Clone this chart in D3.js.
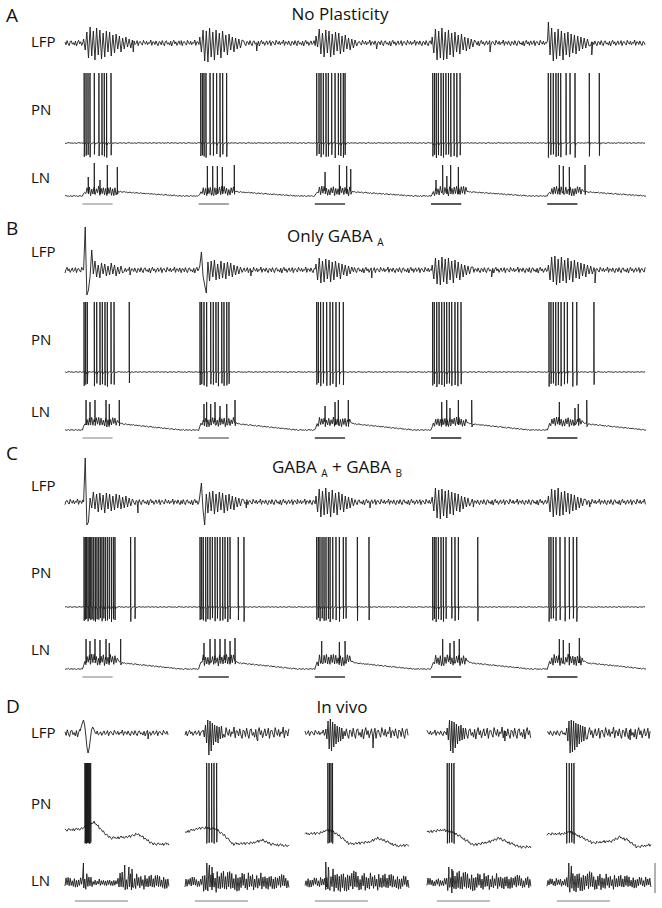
<!DOCTYPE html>
<html>
<head>
<meta charset="utf-8">
<script src="https://cdn.jsdelivr.net/npm/d3@7"></script>
<style>
body { margin: 0; background: #fff; }
text { font-family: "Open Sans", "Noto Sans", sans-serif; fill: #111; }
.trace { fill: none; stroke: #1c1c1c; stroke-width: 0.9; stroke-linejoin: round; }
</style>
</head>
<body>
<div id="fig"></div>
<script>
let w = 662;
let h = 908;

// ---- timing (ms) ----
let trialMs = 1000;
let onsetMs = 160;          // LFP burst onset within a simulated trial
let halfMs = 14;            // half period of LFP oscillation (model)
let odorMs = [150, 410];    // odor bar in simulated trials

// fixed noise table, reused for baseline texture
let jitter = [0.3, -0.6, 0.8, -0.2, -0.9, 0.5, 0.7, -0.4, 0.1, -0.7, 0.6, -1.0, 0.2, 0.9, -0.3,
    0.4, -0.8, 0.0, 0.7, -0.5, -0.1, 0.8, -0.9, 0.3, 0.5, -0.2, -0.7, 0.9, 0.1, -0.4, 0.6, -0.6,
    0.2, -0.1, 1.0, -0.8, 0.4, 0.3, -0.5, 0.7, -0.3, -0.9, 0.5];

// ---- A: no plasticity ----
let lfpA = [
    [4, -7, 11, -15, 16, -13, 12, -17, 15, -12, 13, -16, 10, -14, 12, -9, 11, -13, 8, -10, 9, -6, 7, -9, 5, -6, 6, -4, 4, -5, 3],
    [6, -9, 13, -18, 12, -19, 15, -14, 11, -17, 13, -12, 10, -15, 12, -9, 8, -12, 9, -7, 6, -9, 5, -6, 4, -5, 3],
    [7, -4, 14, -11, 10, -14, 13, -10, 12, -14, 9, -12, 11, -8, 10, -11, 7, -9, 8, -6, 5, -7, 4, -5, 3, -3],
    [6, -10, 14, -17, 12, -15, 15, -17, 11, -16, 13, -12, 10, -14, 11, -9, 8, -11, 9, -7, 6, -8, 5, -6, 4, -4, 3],
    [21, -12, 15, -18, 11, -16, 14, -13, 12, -17, 10, -12, 11, -14, 9, -10, 8, -11, 7, -8, 6, -6, 5, -5, 4, -3]
];
let lfpDipA = [[588, -9], [650, -8], [682, -6], [658, -9], [533, -12]];
let pnA = [
    [165, 181, 198, 215, 252, 292, 318, 338, 358, 396],
    [168, 182, 196, 213, 248, 276, 305, 334, 357, 391],
    [166, 186, 203, 223, 246, 266, 295, 324, 352, 373, 395, 410],
    [165, 180, 195, 213, 236, 256, 278, 300, 320, 348, 372, 400],
    [159, 180, 202, 225, 245, 266, 312, 346, 389, 512, 598]
];
let lnA = [
    [[200, 19], [252, 33], [301, 16], [364, 31], [450, 29]],
    [[225, 30], [271, 30], [311, 30], [354, 29], [457, 31]],
    [[238, 24], [361, 31], [424, 30], [459, 27]],
    [[193, 16], [250, 31], [286, 20], [319, 31], [385, 29]],
    [[254, 31], [288, 30], [340, 29], [475, 31]]
];
let lnLevelA = [0, 0, 5, 5, 4, 2, 0];
let barA = ["#ababab", "#8a8a8a", "#3a3a3a", "#222", "#222"];

// ---- B: only GABA A ----
let lfpB = [
    [0, 43, -25, -20, -6, 20, -4, 9, -7, 5, -8, 7, -4, 6, -6, 4, -5, 7, -4, 5, -6, 3, -4, 4, -3],
    [4, 18, -6, -15, -23, 8, -11, 9, -7, 10, -10, 6, -9, 9, -8, 7, -9, 8, -6, 7, -7, 5, -5, 4, -4, 3],
    [6, -10, 12, -13, 9, -12, 11, -9, 10, -12, 8, -10, 9, -7, 7, -9, 6, -5, 5, -6, 4, -4, 3],
    [5, -9, 12, -14, 10, -15, 13, -12, 11, -14, 12, -10, 9, -13, 10, -8, 8, -10, 6, -7, 5, -5, 4, -4, 3],
    [5, -10, 13, -12, 14, -15, 11, -13, 13, -11, 10, -13, 12, -10, 9, -12, 10, -8, 8, -9, 7, -6, 6, -7, 5, -4, 4, -4]
];
let lfpDipB = [[560, -5], [600, -6], [640, -8], [672, -7], [561, -13]];
let pnB = [
    [164, 178, 192, 252, 273, 301, 321, 344, 364, 396, 422, 553],
    [162, 176, 196, 219, 254, 276, 299, 319, 349, 368, 392, 411],
    [166, 180, 200, 223, 252, 281, 304, 332, 361, 395],
    [164, 178, 199, 219, 242, 264, 285, 307, 328, 356, 380, 408],
    [165, 182, 202, 223, 245, 269, 297, 323, 369, 404, 552]
];
let lnB = [
    [[181, 30], [215, 28], [258, 30], [353, 30], [381, 26], [467, 30]],
    [[196, 26], [219, 28], [254, 26], [291, 28], [334, 24], [392, 26], [463, 30]],
    [[238, 24], [324, 28], [352, 30], [438, 30]],
    [[242, 28], [285, 30], [313, 22], [385, 30], [500, 30]],
    [[254, 28], [389, 22], [417, 26], [490, 30]]
];
let lnLevelB = [0, 0, 8, 8, 6, 3, 0];
let barB = ["#ababab", "#777", "#333", "#222", "#222"];

// ---- C: GABA A + GABA B ----
let lfpC = [
    [0, 44, -23, -20, 4, -6, 10, -7, 8, -10, 9, -8, 7, -11, 9, -7, 8, -9, 6, -8, 8, -6, 7, -7, 5, -6, 6, -5, 4, -4, 3],
    [6, 19, -8, -23, 8, -11, 10, -9, 11, -12, 8, -10, 10, -8, 9, -11, 7, -9, 8, -7, 6, -8, 5, -5, 4, -4, 3],
    [6, -10, 13, -15, 11, -13, 14, -12, 10, -15, 12, -11, 9, -13, 10, -8, 8, -10, 6, -7, 5, -6, 4, -4],
    [5, -9, 14, -16, 12, -17, 13, -14, 11, -16, 12, -12, 10, -13, 9, -9, 8, -10, 6, -7, 5, -5, 4, -4],
    [6, -10, 13, -15, 12, -13, 14, -14, 10, -13, 11, -10, 9, -12, 8, -9, 7, -8, 5, -6, 4, -4, 3]
];
let lfpDipC = [[628, -11], [560, -6], [625, -6], [514, -5], [517, -5]];
let pnC = [
    [164, 175, 186, 198, 209, 221, 232, 247, 261, 275, 290, 304, 318, 333, 347, 364, 381, 399, 416, 430, 565, 602],
    [162, 176, 190, 211, 228, 248, 268, 291, 311, 334, 357, 377, 400, 420, 491, 540],
    [166, 180, 194, 212, 229, 246, 266, 281, 304, 332, 361, 395, 418, 516, 616],
    [164, 178, 193, 213, 236, 256, 279, 328, 356, 385, 552],
    [165, 182, 202, 225, 260, 303, 340, 374, 404]
];
let lnC = [
    [[181, 30], [215, 28], [258, 30], [301, 29], [353, 30], [381, 26], [479, 30]],
    [[196, 26], [248, 30], [291, 30], [334, 30], [377, 30], [420, 28], [463, 31]],
    [[209, 28], [361, 27], [410, 28]],
    [[250, 30], [313, 26], [348, 28], [393, 30]],
    [[254, 30], [288, 29], [340, 26], [426, 31]]
];
let lnLevelC = [0, 0, 9, 9, 6, 3, 0];
let barC = ["#ababab", "#333", "#333", "#222", "#222"];

let lnLevelMs = [0, 150, 175, 440, 500, 750, 1000];

// ---- D: in vivo (separate sweeps) ----
let dStart = [0, 2310, 4620, 6968, 9278];
let dSegMs = 2000;
let dOdor = [190, 1210];
let dOnset = [290, 350, 400, 390, 380];
let dHalfMs = 22;
let dLfp = [
    [2, 6, 10, 13, 8, -2, -14, -20, -15, -6, 3, 6, 4, 1, -1, 2, -2],
    [3, -4, 8, -10, 13, -22, 12, -18, 10, -12, 8, -9, 7, -10, 6, -6, 7, -5],
    [4, -6, 12, -16, 14, -18, 11, -14, 9, -11, 7, -9, 6, -8, 5, -6],
    [5, -7, 13, -18, 12, -20, 11, -15, 9, -11, 7, -8, 8, -7, 5, -6],
    [5, -8, 12, -20, 13, -19, 12, -17, 10, -14, 9, -11, 8, -9, 7, -8, 6, -6]
];
let dLfpNoise = [[4, 3], [3, 6], [3, 6], [3, 6], [3, 6]];
let dLfpDip = [[1600, -6], [1400, -8], [1310, -15], [1500, -8], [1600, -7]];
let dPn = [
    [385, 393, 402, 412, 423, 434, 446, 459, 473, 494],
    [417, 462, 513, 558, 609],
    [440, 470, 500, 530],
    [390, 429, 475, 519],
    [378, 429, 475, 519]
];
let dPnDrift = [
    [[0, 0], [300, 1], [450, 4], [560, 8], [700, 0], [870, -8], [1200, -7], [1400, -4], [1550, -9], [1700, -14], [2000, -14]],
    [[0, -2], [300, 2], [400, 2], [620, 0], [750, -5], [925, -14], [1300, -13], [1500, -10], [1650, -14], [2000, -16]],
    [[0, -4], [300, -3], [420, 0], [560, -2], [865, -14], [1250, -12], [1400, -8], [1550, -11], [1770, -16], [2000, -15]],
    [[0, -2], [300, 0], [400, -1], [600, -5], [890, -15], [1200, -12], [1380, -8], [1550, -12], [1790, -17], [2000, -17]],
    [[0, -4], [300, -4], [450, -2], [620, -6], [885, -13], [1250, -11], [1400, -7], [1550, -10], [1730, -17], [2000, -15]]
];
let dLnAmp = [
    [[0, 6], [330, 6], [360, 11], [480, 9], [540, 4], [1000, 4], [1080, 12], [1500, 9], [2000, 8]],
    [[0, 6], [330, 6], [370, 15], [650, 13], [1500, 10], [2000, 8]],
    [[0, 6], [380, 6], [420, 15], [700, 13], [1500, 10], [2000, 8]],
    [[0, 5], [370, 5], [400, 15], [700, 12], [1500, 9], [2000, 7]],
    [[0, 5], [360, 5], [390, 16], [700, 12], [1500, 8], [2000, 6]]
];
let dLnSpikes = [
    [[355, 20], [1150, 18], [1230, 16], [1290, 14]],
    [[420, 20], [470, 18], [520, 16]],
    [[400, 21], [450, 16]],
    [[420, 16], [480, 14]],
    [[420, 20], [470, 17]]
];
let barD = ["#aaa", "#aaa", "#aaa", "#aaa", "#aaa"];
let scaleBarLN = [-10, 20];

// ---- layout ----
let layout = [
    {key: "A", letterY: 22, lfpY: 43, pnY: 143, lnY: 196, barY: 204, lfpLab: 47, pnLab: 115, lnLab: 183},
    {key: "B", letterY: 235, lfpY: 270, pnY: 372, lnY: 430, barY: 438, lfpLab: 257, pnLab: 345, lnLab: 417},
    {key: "C", letterY: 460, lfpY: 502, pnY: 607, lnY: 669, barY: 677, lfpLab: 491, pnLab: 578, lnLab: 655},
    {key: "D", letterY: 713, lfpY: 733, pnY: 830, lnY: 883, barY: 901, lfpLab: 738, pnLab: 809, lnLab: 886}
];

let svg = d3.select("#fig")
    .append("svg")
    .attr("width", w)
    .attr("height", h)
    .attr("viewBox", "0 0 " + w + " " + h);

let x = d3.scaleLinear().domain([0, 5 * trialMs]).range([65, 646]);
let xD = d3.scaleLinear().domain([0, 11300]).range([65, 652]);

let yRow = (y0) => d3.scaleLinear().domain([-100, 100]).range([y0 + 100, y0 - 100]);
let J = (i) => jitter[((i % jitter.length) + jitter.length) % jitter.length];
let byTime = (a, b) => a[0] - b[0];

let drawTrace = (pts, xs, ys) => svg.append("path")
    .attr("class", "trace")
    .attr("d", d3.line().x(d => xs(d[0])).y(d => ys(d[1]))(pts));

// ---- simulated traces ----
let lfpPoints = function (bursts, dips, amp, seed) {
    let pts = [];
    let j = seed;
    let noise = (a, b) => {
        for (let t = a; t < b; t += 9) pts.push([t, amp * J(j++)]);
    };
    bursts.forEach((ext, k) => {
        let t0 = k * trialMs;
        let on = t0 + onsetMs;
        noise(t0, on);
        ext.forEach((v, i) => pts.push([on + i * halfMs, v]));
        noise(on + ext.length * halfMs, t0 + trialMs);
        pts.push([t0 + dips[k][0], dips[k][1]]);
    });
    return pts.sort(byTime);
};

let pnPoints = function (spikes, peak, trough, seed) {
    let pts = [];
    let j = seed;
    for (let t = 0; t <= 5 * trialMs; t += 12) pts.push([t, 0.5 * J(j++)]);
    spikes.forEach((list, k) => list.forEach((s, i) => {
        let t = k * trialMs + s;
        let lo = trough + 4 * Math.abs(J(i + k * 5));
        pts.push([t - 0.6, 0], [t, peak], [t + 1.2, lo], [t + 3, -2]);
    }));
    return pts.sort(byTime);
};

let lnPoints = function (spikes, levels, wig, seed) {
    let lev = d3.scaleLinear().domain(lnLevelMs).range(levels).clamp(true);
    let pts = [];
    let j = seed;
    for (let k = 0; k < 5; k++) {
        let t0 = k * trialMs;
        for (let r = 0, i = 0; r < trialMs; r += 10, i++) {
            let jj = J(j++);
            let inBurst = r > 170 && r < 460;
            let v = inBurst ? (i % 2 ? 1 : -1) * wig * (0.3 + 0.7 * Math.abs(jj)) : 0.6 * jj;
            pts.push([t0 + r, lev(r) + v]);
        }
        spikes[k].forEach(([s, top]) => pts.push([t0 + s - 1, lev(s)], [t0 + s, top], [t0 + s + 2, lev(s) - 3]));
    }
    pts.push([5 * trialMs, 0]);
    return pts.sort(byTime);
};

let sims = [
    {lay: layout[0], lfp: lfpA, dips: lfpDipA, pn: pnA, ln: lnA, level: lnLevelA, wig: 5, bars: barA},
    {lay: layout[1], lfp: lfpB, dips: lfpDipB, pn: pnB, ln: lnB, level: lnLevelB, wig: 5, bars: barB},
    {lay: layout[2], lfp: lfpC, dips: lfpDipC, pn: pnC, ln: lnC, level: lnLevelC, wig: 6, bars: barC}
];

sims.forEach((p, pi) => {
    let L = p.lay;
    drawTrace(lfpPoints(p.lfp, p.dips, 3, pi * 11), x, yRow(L.lfpY));
    drawTrace(pnPoints(p.pn, 70, -15, pi * 7 + 3), x, yRow(L.pnY));
    drawTrace(lnPoints(p.ln, p.level, p.wig, pi * 13 + 5), x, yRow(L.lnY));

    svg.selectAll(null)
        .data(p.bars)
        .enter()
        .append("line")
        .attr("x1", (d, i) => x(i * trialMs + odorMs[0]))
        .attr("x2", (d, i) => x(i * trialMs + odorMs[1]))
        .attr("y1", L.barY)
        .attr("y2", L.barY)
        .attr("stroke", d => d)
        .attr("stroke-width", 1.5);
});

// ---- in vivo sweeps ----
let LD = layout[3];
let yDL = yRow(LD.lfpY), yDP = yRow(LD.pnY), yDN = yRow(LD.lnY);

dStart.forEach((s, k) => {
    // LFP
    let pts = [];
    let j = k * 9;
    let on = dOnset[k];
    let ext = dLfp[k];
    for (let t = 0; t < on; t += dHalfMs) pts.push([s + t, dLfpNoise[k][0] * J(j++)]);
    ext.forEach((v, i) => pts.push([s + on + i * dHalfMs, v]));
    for (let t = on + ext.length * dHalfMs; t <= dSegMs; t += dHalfMs) pts.push([s + t, dLfpNoise[k][1] * J(j++)]);
    pts.push([s + dLfpDip[k][0], dLfpDip[k][1]]);
    drawTrace(pts.sort(byTime), xD, yDL);

    // PN
    let drift = d3.scaleLinear().domain(dPnDrift[k].map(d => d[0])).range(dPnDrift[k].map(d => d[1])).clamp(true);
    pts = [];
    j = k * 5 + 2;
    for (let t = 0; t <= dSegMs; t += 20) pts.push([s + t, drift(t) + 1.5 * J(j++)]);
    dPn[k].forEach((t, i) => {
        pts.push([s + t - 1, drift(t)], [s + t, 67], [s + t + 3, -14 + 2 * Math.abs(J(i))], [s + t + 8, drift(t) + 1]);
    });
    drawTrace(pts.sort(byTime), xD, yDP);

    // LN
    let amp = d3.scaleLinear().domain(dLnAmp[k].map(d => d[0])).range(dLnAmp[k].map(d => d[1])).clamp(true);
    pts = [];
    j = k * 3 + 1;
    for (let t = 0, i = 0; t <= dSegMs; t += 20, i++) {
        pts.push([s + t, amp(t) * (i % 2 ? 1 : -0.7) * (0.3 + 0.7 * Math.abs(J(j++)))]);
    }
    dLnSpikes[k].forEach(([t, top]) => pts.push([s + t, top], [s + t + 10, -4]));
    drawTrace(pts.sort(byTime), xD, yDN);
});

svg.selectAll(null)
    .data(barD)
    .enter()
    .append("line")
    .attr("x1", (d, i) => xD(dStart[i] + dOdor[0]))
    .attr("x2", (d, i) => xD(dStart[i] + dOdor[1]))
    .attr("y1", LD.barY)
    .attr("y2", LD.barY)
    .attr("stroke", d => d)
    .attr("stroke-width", 1.5);

// vertical scale bar
svg.append("line")
    .attr("x1", 655).attr("x2", 655)
    .attr("y1", yDN(scaleBarLN[0])).attr("y2", yDN(scaleBarLN[1]))
    .attr("stroke", "#999")
    .attr("stroke-width", 1.5);

// ---- text ----
layout.forEach(L => {
    svg.append("text").attr("x", 6).attr("y", L.letterY).attr("font-size", 19).text(L.key);
    svg.append("text").attr("x", 31).attr("y", L.lfpLab).attr("font-size", 15).text("LFP");
    svg.append("text").attr("x", 31).attr("y", L.pnLab).attr("font-size", 15).text("PN");
    svg.append("text").attr("x", 31).attr("y", L.lnLab).attr("font-size", 15).text("LN");
});

svg.append("text").attr("x", 340).attr("y", 20).attr("font-size", 17)
    .attr("text-anchor", "middle").text("No Plasticity");

let tB = svg.append("text").attr("x", 287).attr("y", 242).attr("font-size", 17);
tB.append("tspan").text("Only GABA ");
tB.append("tspan").attr("font-size", 10).attr("dy", 4).text("A");

let tC = svg.append("text").attr("x", 272).attr("y", 473).attr("font-size", 17);
tC.append("tspan").text("GABA ");
tC.append("tspan").attr("font-size", 10).attr("dy", 4).text("A");
tC.append("tspan").attr("dy", -4).text(" + GABA ");
tC.append("tspan").attr("font-size", 10).attr("dy", 4).text("B");

svg.append("text").attr("x", 342).attr("y", 713).attr("font-size", 17)
    .attr("text-anchor", "middle").text("In vivo");
</script>
</body>
</html>
